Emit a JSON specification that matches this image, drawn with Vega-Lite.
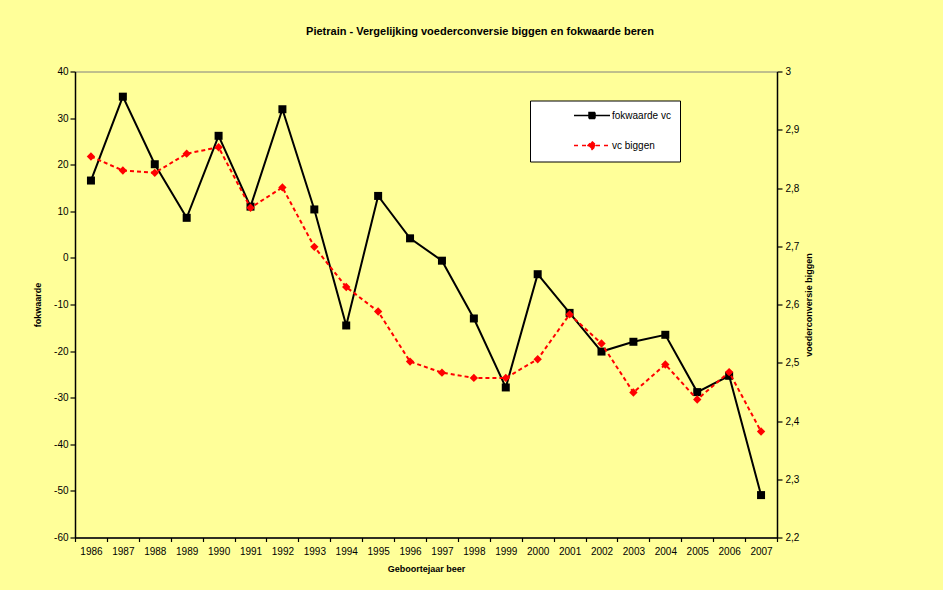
{
  "$schema": "https://vega.github.io/schema/vega-lite/v6.json",
  "width": 702,
  "height": 466,
  "autosize": {"type": "none"},
  "padding": {"left": 75, "top": 71.5, "right": 166, "bottom": 52.5},
  "background": "#FFFF99",
  "config": {
    "font": "Liberation Sans",
    "view": {"stroke": "#808080", "strokeWidth": 1},
    "axis": {
      "grid": false,
      "domainColor": "#000000",
      "domainWidth": 1.5,
      "tickColor": "#000000",
      "tickWidth": 1.2,
      "labelColor": "#000000",
      "labelFontSize": 10,
      "titleColor": "#000000",
      "titleFontSize": 9,
      "titleFontWeight": "bold"
    }
  },
  "title": {
    "text": "Pietrain - Vergelijking voederconversie biggen en fokwaarde beren",
    "fontSize": 11,
    "fontWeight": "bold",
    "color": "#000000",
    "anchor": "middle",
    "dx": 54,
    "offset": 30
  },
  "data": {
    "values": [
      {"jaar": "1986", "fokwaarde": 16.6, "vc": 2.854},
      {"jaar": "1987", "fokwaarde": 34.6, "vc": 2.830},
      {"jaar": "1988", "fokwaarde": 20.1, "vc": 2.826},
      {"jaar": "1989", "fokwaarde": 8.6, "vc": 2.859},
      {"jaar": "1990", "fokwaarde": 26.2, "vc": 2.870},
      {"jaar": "1991", "fokwaarde": 11.0, "vc": 2.766},
      {"jaar": "1992", "fokwaarde": 31.9, "vc": 2.801},
      {"jaar": "1993", "fokwaarde": 10.4, "vc": 2.699},
      {"jaar": "1994", "fokwaarde": -14.5, "vc": 2.630},
      {"jaar": "1995", "fokwaarde": 13.3, "vc": 2.588},
      {"jaar": "1996", "fokwaarde": 4.2, "vc": 2.502},
      {"jaar": "1997", "fokwaarde": -0.6, "vc": 2.483},
      {"jaar": "1998", "fokwaarde": -13.0, "vc": 2.474},
      {"jaar": "1999", "fokwaarde": -27.8, "vc": 2.474},
      {"jaar": "2000", "fokwaarde": -3.5, "vc": 2.506},
      {"jaar": "2001", "fokwaarde": -11.8, "vc": 2.583},
      {"jaar": "2002", "fokwaarde": -20.1, "vc": 2.533},
      {"jaar": "2003", "fokwaarde": -18.0, "vc": 2.449},
      {"jaar": "2004", "fokwaarde": -16.5, "vc": 2.497},
      {"jaar": "2005", "fokwaarde": -28.8, "vc": 2.437},
      {"jaar": "2006", "fokwaarde": -25.3, "vc": 2.484},
      {"jaar": "2007", "fokwaarde": -50.9, "vc": 2.382}
    ]
  },
  "encoding": {
    "x": {
      "field": "jaar",
      "type": "ordinal",
      "bandPosition": 0.5,
      "scale": {"type": "band", "paddingInner": 0, "paddingOuter": 0},
      "axis": {
        "title": "Geboortejaar beer",
        "labelAngle": 0,
        "tickBand": "extent",
        "tickSize": 4,
        "labelPadding": 5,
        "titlePadding": 8
      }
    },
    "color": {
      "datum": "fokwaarde vc",
      "type": "nominal",
      "scale": {"domain": ["fokwaarde vc", "vc biggen"], "range": ["#000000", "#FF0000"]},
      "legend": {
        "orient": "none",
        "legendX": 455,
        "legendY": 29,
        "title": null,
        "fillColor": "#FFFFFF",
        "strokeColor": "#000000",
        "padding": 9,
        "rowPadding": 17,
        "symbolSize": 100,
        "symbolOffset": 47,
        "labelOffset": 14,
        "labelFontSize": 10,
        "labelColor": "#000000",
        "symbolStrokeWidth": 1.5,
        "encode": {
          "symbols": {
            "update": {
              "shape": {"signal": "datum.value === 'vc biggen' ? 'M-3.6,0H-0.8M0.8,0H3.6M0,-0.8L0.8,0L0,0.8L-0.8,0Z' : 'M-3.6,0H-0.6M0.6,0H3.6M-0.6,-0.6H0.6V0.6H-0.6Z'"},
              "fill": {"signal": "datum.value === 'vc biggen' ? '#FF0000' : '#000000'"},
              "stroke": {"signal": "datum.value === 'vc biggen' ? '#FF0000' : '#000000'"},
              "strokeDash": {"signal": "datum.value === 'vc biggen' ? [4, 4] : [1, 0]"},
              "strokeWidth": {"value": 1.5},
              "opacity": {"value": 1}
            }
          }
        }
      }
    }
  },
  "layer": [
    {
      "encoding": {
        "y": {
          "field": "fokwaarde",
          "type": "quantitative",
          "scale": {"domain": [-60, 40], "nice": false, "zero": false},
          "axis": {
            "orient": "left",
            "title": "fokwaarde",
            "values": [-60, -50, -40, -30, -20, -10, 0, 10, 20, 30, 40],
            "labelExpr": "toString(datum.value)",
            "tickSize": 5,
            "labelPadding": 2,
            "titlePadding": 11
          }
        }
      },
      "layer": [
        {"mark": {"type": "line", "strokeWidth": 2}},
        {"mark": {"type": "point", "shape": "square", "filled": true, "size": 64, "opacity": 1}}
      ]
    },
    {
      "encoding": {
        "y": {
          "field": "vc",
          "type": "quantitative",
          "scale": {"domain": [2.2, 3], "nice": false, "zero": false},
          "axis": {
            "orient": "right",
            "title": "voederconversie biggen",
            "titleAngle": 270,
            "values": [2.2, 2.3, 2.4, 2.5, 2.6, 2.7, 2.8, 2.9, 3],
            "labelExpr": "replace(toString(datum.value), '.', ',')",
            "tickSize": 5,
            "labelPadding": 3,
            "titlePadding": 15
          }
        },
        "color": {"datum": "vc biggen", "type": "nominal"}
      },
      "layer": [
        {"mark": {"type": "line", "strokeWidth": 2, "strokeDash": [4, 3]}},
        {"mark": {"type": "point", "shape": "diamond", "filled": true, "size": 70, "opacity": 1}}
      ]
    }
  ],
  "resolve": {"scale": {"y": "independent"}}
}
